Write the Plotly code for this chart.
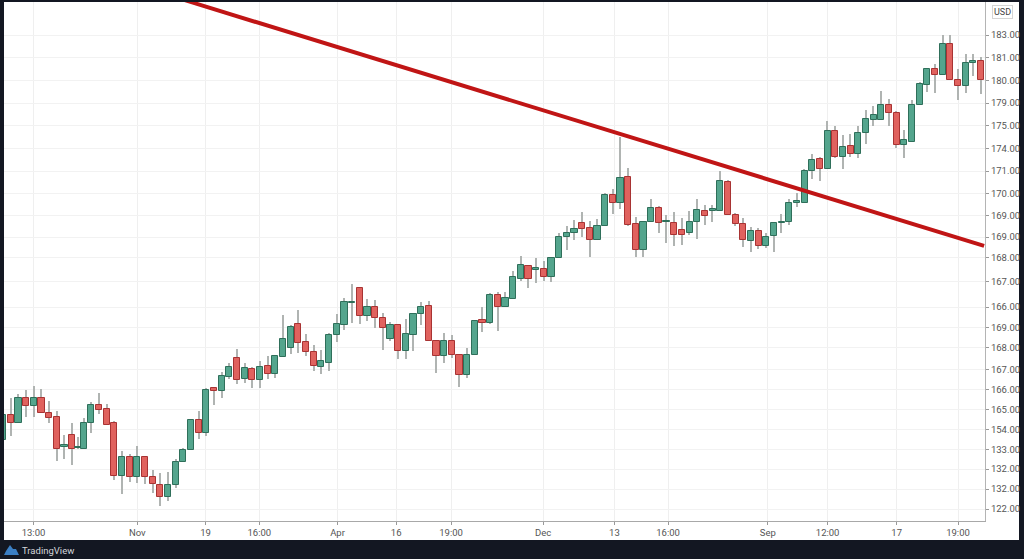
import plotly.graph_objects as go

W = 1024
H = 559

# bar numbers, the squeezed doji after bar 8 makes the spacing uneven
bar_x = [-1] + list(range(9)) + [8.8] + [k - 0.5 for k in range(10, 128)]

opens = [130.63,
    133.75, 132.79, 135.84, 134.91, 135.88, 133.96, 133.46, 129.79, 131.21, 129.59,
    129.5, 132.71, 135.04, 134.46, 132.79, 126.16, 128.54, 126, 128.46, 126,
    125, 123.54, 124.96, 127.84, 129.34, 133.09, 131.5, 137.09, 136.75, 138.54,
    140.84, 138.29, 139.54, 138.16, 139.84, 138.91, 141.04, 142.16, 145.09, 142.84,
    141.63, 139.79, 140.29, 143.79, 145.04, 147.71, 149.63, 146.16, 147.29, 145.91,
    143.29, 145.04, 141.71, 143.79, 146.38, 147.38, 142.96, 141.09, 143, 141.29,
    138.71, 141.29, 145.59, 145.25, 148.71, 147.29, 148.29, 150.79, 152.34, 151.84,
    152.04, 151.04, 153.38, 156, 156.46, 157.75, 157.16, 155.66, 157.38, 161.19,
    160.21, 163.46, 157.59, 154.38, 157.88, 159.63, 157.84, 157.75, 156.84, 156.54,
    157.91, 159.21, 159.21, 159.29, 162.84, 158.79, 157.63, 155.54, 156.71, 154.91,
    156.09, 157.79, 157.84, 160.29, 160.29, 164.25, 165.71, 164.46, 169.25, 166,
    167.34, 166.41, 169, 170.66, 170.66, 172.54, 171.46, 167.5, 167.91, 172.46,
    175.04, 177, 176.29, 180.16, 175.66, 174.88, 177.71, 177.96]

closes = [133.75,
    132.79, 135.84, 134.91, 135.88, 134.04, 133.38, 129.54, 130, 129.5, 129.79,
    132.75, 135.04, 134.38, 132.54, 126.16, 128.54, 126, 128.46, 125.96, 125.09,
    123.54, 125, 127.84, 129.38, 133.09, 131.5, 136.91, 136.75, 138.63, 139.71,
    138.16, 139.59, 138.16, 139.79, 138.91, 141.13, 143.25, 144.75, 142.75, 141.63,
    139.88, 140.46, 143.79, 145.16, 147.88, 147.88, 146.16, 147.29, 145.88, 144.59,
    145.04, 141.71, 143.88, 146.38, 147.29, 142.96, 141.09, 142.96, 141.29, 138.69,
    141.25, 145.46, 145.29, 148.75, 147.29, 148.38, 151, 152.46, 150.71, 152.16,
    151.04, 153.41, 156.04, 156.46, 156.96, 157.04, 155.66, 157.38, 161.19, 160.21,
    163.38, 157.5, 154.38, 157.88, 159.66, 157.75, 158.04, 156.25, 156.25, 157.88,
    159.41, 158.63, 159.46, 162.96, 158.71, 157.59, 155.59, 156.71, 154.91, 156.04,
    157.75, 157.91, 160.25, 160.5, 164.25, 165.66, 164.5, 169.21, 166, 167.29,
    166.38, 169, 170.75, 171.21, 172.54, 171.46, 167.54, 168.09, 172.54, 175.09,
    177, 176.25, 180.16, 175.63, 174.88, 177.75, 178.04, 175.66]

highs = [135.63,
    135.91, 136.34, 136.88, 137.41, 136.96, 135.5, 134.29, 131.29, 132.71, 130.96,
    133.38, 135.34, 136.5, 135.09, 133.04, 129.25, 128.88, 129.88, 128.63, 126.88,
    126.46, 126.59, 128.25, 129.66, 133.21, 134.29, 137.16, 137.21, 139.09, 140.21,
    142.04, 140.29, 139.79, 140.54, 141.13, 141.25, 146.25, 145, 146.88, 143.84,
    142.46, 141.88, 143.96, 146.38, 148.38, 150.13, 149.79, 148.29, 148.13, 146.46,
    145.41, 145.04, 145.71, 146.54, 147.91, 148.04, 143.04, 143.96, 143.75, 141.34,
    142.09, 145.63, 147.21, 148.96, 149.16, 149.09, 151.79, 153.63, 152.41, 153.34,
    153.04, 153.54, 156.54, 157.41, 158.13, 159.16, 158, 158.21, 161.54, 161.96,
    168.46, 164.59, 158.46, 157.88, 160.79, 159.88, 158.75, 159.16, 158.41, 159.25,
    160.75, 160, 160.04, 164.25, 163.13, 159.04, 158.34, 157.29, 157.09, 156.54,
    157.79, 158.84, 160.71, 161.46, 164.46, 166.34, 165.96, 170.5, 169.88, 168.75,
    168.84, 169.91, 171.84, 172.41, 174.21, 173.29, 171.75, 169.34, 173.13, 175.41,
    177, 177.59, 181.21, 181.21, 177, 178.84, 178.84, 178.5]

lows = [129.75,
    131.13, 132.79, 133.54, 133.46, 133.96, 132.79, 128.04, 128.21, 127.54, 129.46,
    129.5, 131.46, 133.88, 132.54, 125.63, 123.84, 125.41, 125.29, 125.09, 123.96,
    122.41, 123.04, 124.59, 127.84, 129.34, 130.71, 131.16, 135, 135.84, 138.21,
    137.63, 137.71, 137.13, 137.13, 138.21, 138.34, 141.04, 141.38, 141.54, 141.13,
    139.25, 138.88, 139.29, 142.91, 144.38, 145.21, 145.13, 145.54, 144.63, 141.88,
    142.96, 140.71, 140.71, 141.71, 144.96, 142.96, 138.96, 140.29, 140.91, 137.25,
    138.34, 141.29, 144.16, 145.16, 144.29, 147.29, 148.21, 150.5, 149.59, 150.29,
    150.54, 150.34, 153.38, 154.38, 155.63, 156.04, 153.54, 155.66, 157.38, 158.84,
    159.54, 157.38, 153.54, 153.54, 157.88, 156.46, 155.29, 154.91, 155, 156.25,
    155.75, 157.5, 157.88, 159.29, 158.71, 157.38, 154.79, 154.16, 154.5, 154.59,
    154.16, 156.46, 157.54, 159.71, 160.29, 163.25, 163, 164.46, 165.91, 164.5,
    166.04, 165.91, 167.66, 169.88, 170.66, 169.88, 167.16, 165.91, 167.91, 172.46,
    174.09, 174.04, 176.29, 175.63, 173.16, 174.04, 176.13, 173.91]

# trend line drawn on the chart
trend_x = [22.7, 126.9]
trend_y = [185.6, 154.9]

# axis labels, positions are along the drawn scale
y_ticks = [181.25, 178.38, 175.54, 172.75, 169.94, 167.09, 164.25, 161.38, 158.69, 156,
           153.38, 150.38, 147.25, 144.63, 142.13, 139.38, 136.88, 134.38, 131.88,
           129.38, 127, 124.5, 122]
y_labels = ['183.00', '181.00', '180.00', '179.00', '175.00', '174.00', '171.00', '170.00',
            '169.00', '169.00', '168.00', '167.00', '166.00', '169.00', '168.00', '167.00',
            '166.00', '165.00', '154.00', '133.00', '132.00', '132.00', '122.00']
x_ticks = [2.96, 16.5, 25.4, 32.4, 42.6, 50.25, 57.4, 69.4, 78.7, 85.7, 98.7, 106.5, 115.5, 123.5]
x_labels = ['13:00', 'Nov', '19', '16:00', 'Apr', '16', '19:00', 'Dec', '13', '16:00', 'Sep',
            '12:00', '17', '19:00']

# plot area in pixels of the page
LEFT, RIGHT, TOP, BOTTOM = 4, 985, 2, 521


def px_x(px):
    return (px - LEFT) / (RIGHT - LEFT)


def px_y(py):
    return (BOTTOM - py) / (BOTTOM - TOP)


up = [c >= o for o, c in zip(opens, closes)]

fig = go.Figure()

# wicks
fig.add_trace(go.Bar(
    x=bar_x,
    y=[h - l for h, l in zip(highs, lows)],
    base=lows,
    width=0.17,
    marker=dict(color='#b0b4b2', line=dict(width=0)),
    showlegend=False
))

# bodies
fig.add_trace(go.Bar(
    x=bar_x,
    y=[abs(c - o) for o, c in zip(opens, closes)],
    base=[min(o, c) for o, c in zip(opens, closes)],
    width=0.8,
    marker=dict(
        color=['#54a58d' if u else '#e0625e' for u in up],
        line=dict(color=['#2f6f5a' if u else '#a83333' for u in up], width=1)
    ),
    showlegend=False
))

fig.add_trace(go.Scatter(
    x=trend_x,
    y=trend_y,
    mode='lines',
    line=dict(color='#c01515', width=4),
    showlegend=False
))

# white chart panel on the dark page
fig.add_shape(type='rect', xref='paper', yref='paper', layer='below',
              x0=0, x1=px_x(1019), y0=px_y(540), y1=1,
              fillcolor='white', line=dict(width=0))

# logo cloud in the footer
fig.add_shape(type='path', xref='paper', yref='paper', layer='above',
              path=(f'M {px_x(4)} {px_y(555)} L {px_x(6)} {px_y(551)} L {px_x(10)} {px_y(545)} '
                    f'L {px_x(13)} {px_y(549)} L {px_x(16)} {px_y(549)} L {px_x(19)} {px_y(555)} Z'),
              fillcolor='#3b7fc4', line=dict(width=0))

fig.add_annotation(xref='paper', yref='paper', x=px_x(20), y=px_y(550), text='TradingView',
                   showarrow=False, xanchor='left', yanchor='middle',
                   font=dict(family='Roboto', size=9.5, color='#d2d5da'))

fig.add_annotation(xref='paper', yref='paper', x=px_x(1002), y=px_y(12), text='USD',
                   showarrow=False, xanchor='center', yanchor='middle',
                   bordercolor='#d5d5d5', borderwidth=1, borderpad=1,
                   font=dict(family='Roboto', size=9, color='#444444'))

fig.update_layout(
    width=W,
    height=H,
    barmode='overlay',
    bargap=0,
    paper_bgcolor='#131722',
    plot_bgcolor='rgba(0,0,0,0)',
    margin=dict(l=LEFT, r=W - RIGHT, t=TOP, b=H - BOTTOM, pad=0),
    showlegend=False,
    font=dict(family='Roboto', size=9.5, color='#555555')
)

fig.update_xaxes(
    range=[-0.887, 127.02],
    tickmode='array',
    tickvals=x_ticks,
    ticktext=x_labels,
    ticks='outside',
    ticklen=3,
    tickcolor='#999999',
    showgrid=True,
    gridcolor='#efefef',
    gridwidth=1,
    zeroline=False,
    showline=True,
    linecolor='#a8a8a8',
    tickangle=0
)

fig.update_yaxes(
    range=[120.5, 185.375],
    side='right',
    tickmode='array',
    tickvals=y_ticks,
    ticktext=y_labels,
    ticks='outside',
    ticklen=3,
    tickcolor='#999999',
    showgrid=True,
    gridcolor='#f2f2f2',
    gridwidth=1,
    zeroline=False,
    showline=True,
    linecolor='#b4b4b4'
)

fig.write_html("out.html", config=dict(displayModeBar=False),
               post_script="document.body.style.margin='0';document.body.style.overflow='hidden';")
